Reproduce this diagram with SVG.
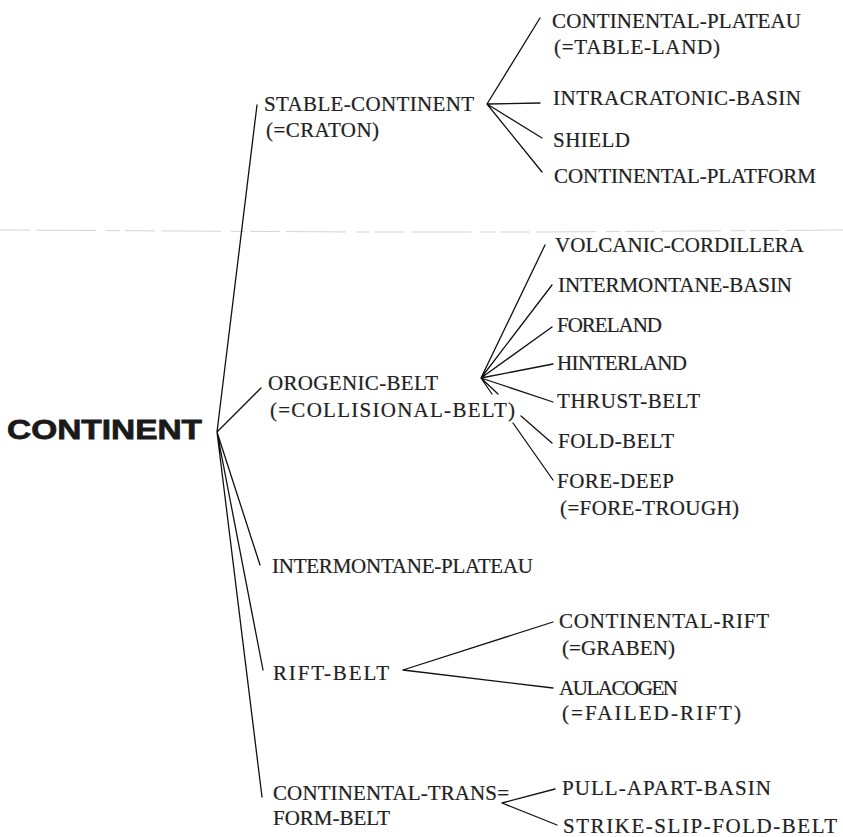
<svg xmlns="http://www.w3.org/2000/svg" width="843" height="837" viewBox="0 0 843 837">
<style>
.t{font-family:"Liberation Serif","Times New Roman",serif;font-size:21px;fill:#222;stroke:#222;stroke-width:0.2}
.root{font-family:"Liberation Sans",Arial,sans-serif;font-size:28px;font-weight:bold;fill:#1a1a1a;stroke:#1a1a1a;stroke-width:0.8}
.c{stroke:#111;stroke-width:1.3;fill:none;stroke-linecap:round}
.fold{stroke:#d4d4d4;stroke-width:1;stroke-dasharray:30 6 60 10 14 5;fill:none}
</style>
<rect width="843" height="837" fill="#fff"/>
<path class="fold" d="M0,230 L180,231 L360,232 L540,232 L700,231 L843,230"/>
<g id="connectors">
  <path class="c" d="M217,432 L257,105 M217,432 L261,388 M217,432 L260,565 M217,432 L263,670 M217,432 L262,797"/>
  <path class="c" d="M487,104 L540,18 M487,104 L540,103 M487,104 L542,138 M487,104 L542,172"/>
  <path class="c" d="M481,378 L545,245 M481,378 L552,285 M481,378 L552,327 M481,378 L553,364 M481,378 L553,402 M481,378 L498,394 M521,416 L552,443 M481,378 L492,394 M513,423 L553,480"/>
  <path class="c" d="M403,670 L553,622 M403,670 L553,688"/>
  <path class="c" d="M502,803 L555,789 M502,803 L557,825"/>
</g>
<g id="continent"><text class="root" x="7" y="439" textLength="195" lengthAdjust="spacingAndGlyphs">CONTINENT</text></g>
<g id="stable-continent"><text class="t" x="264" y="111" textLength="210" lengthAdjust="spacing">STABLE-CONTINENT</text><text class="t" x="266" y="137" textLength="113" lengthAdjust="spacing">(=CRATON)</text></g>
<g id="continental-plateau"><text class="t" x="552" y="28" textLength="249" lengthAdjust="spacing">CONTINENTAL-PLATEAU</text><text class="t" x="554" y="54" textLength="166" lengthAdjust="spacing">(=TABLE-LAND)</text></g>
<g id="intracratonic-basin"><text class="t" x="553" y="105" textLength="248" lengthAdjust="spacing">INTRACRATONIC-BASIN</text></g>
<g id="shield"><text class="t" x="553" y="147" textLength="77" lengthAdjust="spacing">SHIELD</text></g>
<g id="continental-platform"><text class="t" x="554" y="183" textLength="262" lengthAdjust="spacing">CONTINENTAL-PLATFORM</text></g>
<g id="orogenic-belt"><text class="t" x="268" y="390" textLength="170" lengthAdjust="spacing">OROGENIC-BELT</text><text class="t" x="270" y="417" textLength="245" lengthAdjust="spacing">(=COLLISIONAL-BELT)</text></g>
<g id="volcanic-cordillera"><text class="t" x="555" y="252" textLength="249" lengthAdjust="spacing">VOLCANIC-CORDILLERA</text></g>
<g id="intermontane-basin"><text class="t" x="558" y="292" textLength="234" lengthAdjust="spacing">INTERMONTANE-BASIN</text></g>
<g id="foreland"><text class="t" x="557" y="332" textLength="105" lengthAdjust="spacing">FORELAND</text></g>
<g id="hinterland"><text class="t" x="557" y="370" textLength="130" lengthAdjust="spacing">HINTERLAND</text></g>
<g id="thrust-belt"><text class="t" x="557" y="408" textLength="143" lengthAdjust="spacing">THRUST-BELT</text></g>
<g id="fold-belt"><text class="t" x="558" y="448" textLength="116" lengthAdjust="spacing">FOLD-BELT</text></g>
<g id="fore-deep"><text class="t" x="557" y="488" textLength="117" lengthAdjust="spacing">FORE-DEEP</text><text class="t" x="560" y="515" textLength="179" lengthAdjust="spacing">(=FORE-TROUGH)</text></g>
<g id="intermontane-plateau"><text class="t" x="272" y="573" textLength="261" lengthAdjust="spacing">INTERMONTANE-PLATEAU</text></g>
<g id="rift-belt"><text class="t" x="273" y="680" textLength="116" lengthAdjust="spacing">RIFT-BELT</text></g>
<g id="continental-rift"><text class="t" x="559" y="628" textLength="210" lengthAdjust="spacing">CONTINENTAL-RIFT</text><text class="t" x="562" y="655" textLength="113" lengthAdjust="spacing">(=GRABEN)</text></g>
<g id="aulacogen"><text class="t" x="559" y="695" textLength="119" lengthAdjust="spacing">AULACOGEN</text><text class="t" x="562" y="720" textLength="179" lengthAdjust="spacing">(=FAILED-RIFT)</text></g>
<g id="continental-transform-belt"><text class="t" x="273" y="800" textLength="236" lengthAdjust="spacing">CONTINENTAL-TRANS=</text><text class="t" x="273" y="825" textLength="117" lengthAdjust="spacing">FORM-BELT</text></g>
<g id="pull-apart-basin"><text class="t" x="562" y="795" textLength="209" lengthAdjust="spacing">PULL-APART-BASIN</text></g>
<g id="strike-slip-fold-belt"><text class="t" x="563" y="833" textLength="274" lengthAdjust="spacing">STRIKE-SLIP-FOLD-BELT</text></g>
</svg>
